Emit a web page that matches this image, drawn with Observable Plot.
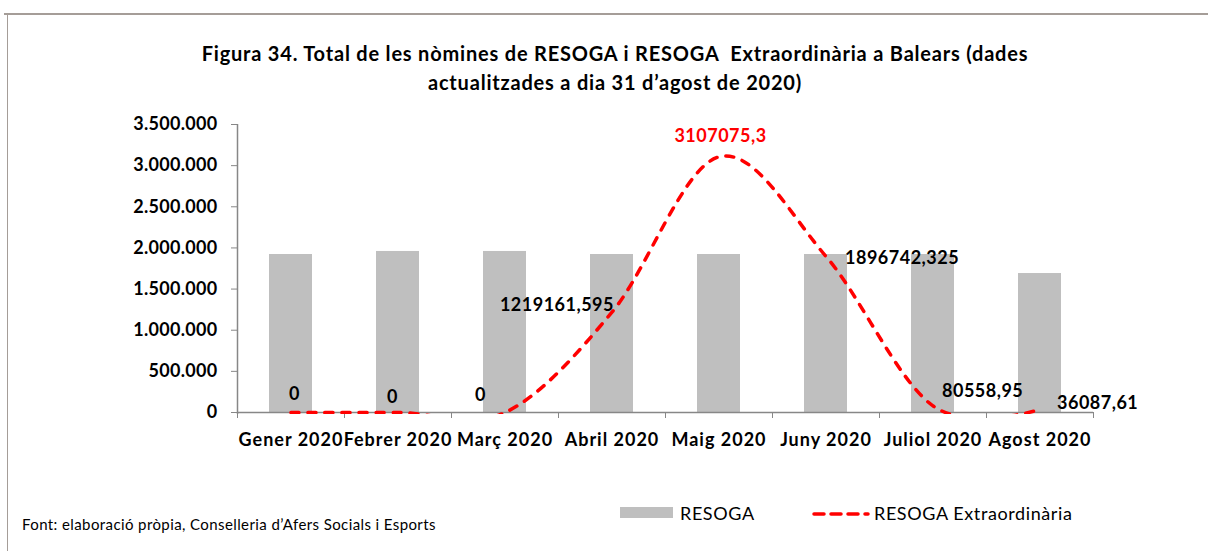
<!DOCTYPE html>
<html><head><meta charset="utf-8">
<script src="https://cdn.jsdelivr.net/npm/d3@7"></script>
<script src="https://cdn.jsdelivr.net/npm/@observablehq/plot@0.6"></script>
<style>
body{margin:0;background:#fff;font-family:Lato,sans-serif;}
#page{position:relative;width:1208px;height:551px;overflow:hidden;background:#fff;}
#frameTop{position:absolute;left:4px;top:13px;width:1210px;height:0;border-top:2px solid #a59d98;}
#frameLeft{position:absolute;left:7px;top:13px;width:0;height:560px;border-left:1.5px solid #a59d98;}
.title{position:absolute;left:0;width:1230px;text-align:center;font-weight:bold;font-size:20px;letter-spacing:0.8px;line-height:29px;white-space:pre;color:#000;}
#chart{position:absolute;left:0;top:100px;}
#caption{position:absolute;left:22px;top:515px;font-size:15px;letter-spacing:0.4px;line-height:18px;color:#000;white-space:pre;}
.legtext{position:absolute;font-size:18px;letter-spacing:0.6px;line-height:20px;color:#000;white-space:pre;}
#legBox{position:absolute;left:620px;top:507px;width:53px;height:11px;background:#BFBFBF;}
#legLine{position:absolute;left:808px;top:506px;}
#chart g[aria-label="y-axis tick label"] text{letter-spacing:0.3px;}
#chart g[aria-label="x-axis tick label"] text{letter-spacing:1px;}
#chart g[aria-label="text"] text{letter-spacing:0.5px;}
</style>
</head><body>
<div id="page">
  <div id="frameTop"></div>
  <div id="frameLeft"></div>
  <div class="title" style="top:39px">Figura 34. Total de les nòmines de RESOGA i RESOGA  Extraordinària a Balears (dades</div>
  <div class="title" style="top:68px">actualitzades a dia 31 d’agost de 2020)</div>
  <div id="chart"></div>
  <div id="caption">Font: elaboració pròpia, Conselleria d’Afers Socials i Esports</div>
  <div id="legBox"></div>
  <div class="legtext" style="left:680px;top:503px">RESOGA</div>
  <svg id="legLine" width="64" height="16"><line x1="6" y1="8" x2="60" y2="8" stroke="#FF0000" stroke-width="3.5" stroke-linecap="round" stroke-dasharray="10,7"/></svg>
  <div class="legtext" style="left:874px;top:503px">RESOGA Extraordinària</div>
</div>
<script>
// ---- data ----
const months = ["Gener 2020","Febrer 2020","Març 2020","Abril 2020","Maig 2020","Juny 2020","Juliol 2020","Agost 2020"];
const resoga = [1920000, 1957000, 1957000, 1920000, 1920000, 1920000, 1920000, 1689000];
const extraordinaria = [0, 0, 0, 1219161.595, 3107075.3, 1896742.325, 80558.95, 36087.61];
const yTicks = [0, 500000, 1000000, 1500000, 2000000, 2500000, 3000000, 3500000];

// ---- label placement (style, not data) ----
const labelPlacement = [
  {anchor:"middle", dx:3.5, dy:-18.5, fill:"#000"},
  {anchor:"middle", dx:-5.5, dy:-15.5, fill:"#000"},
  {anchor:"middle", dx:-24.5, dy:-17, fill:"#000"},
  {anchor:"end", dx:2, dy:-7, fill:"#000"},
  {anchor:"middle", dx:1.5, dy:-21, fill:"#FF0000"},
  {anchor:"start", dx:19, dy:1.5, fill:"#000"},
  {anchor:"start", dx:9, dy:-15, fill:"#000"},
  {anchor:"start", dx:17, dy:-6, fill:"#000"}
];

const W = 1208, H = 360, ML = 237, MR = 115, MT = 24;
const plotH = 288; // px span for 0..3.5M
const yMin = -25000;
const MB = H - MT - plotH * (3500000 - yMin) / 3500000;
const step = (W - ML - MR) / months.length;
const axisGray = "#878787";

const locale = d3.formatLocale({decimal: ",", thousands: ".", grouping: [3], currency: ["", "€"]});
const fmtTick = locale.format(",d");
const fmtLabel = v => String(v).replace(".", ",");
const rows = months.map((m, i) => ({month: m, resoga: resoga[i], extra: extraordinaria[i], i}));

const labelMarks = rows.map((r, i) => Plot.text([r], {
  x: "month", y: "extra", text: d => fmtLabel(d.extra),
  textAnchor: labelPlacement[i].anchor, dx: labelPlacement[i].dx, dy: labelPlacement[i].dy,
  fill: labelPlacement[i].fill, fontWeight: "bold", fontSize: 18
}));

const dyAxis = -plotH * (0 - yMin) / 3500000;

const chart = Plot.plot({
  width: W, height: H,
  marginLeft: ML, marginRight: MR, marginTop: MT, marginBottom: MB,
  style: {fontFamily: "Lato, sans-serif", fontSize: "18px", background: "transparent", overflow: "visible"},
  x: {domain: months, paddingInner: 0.6, paddingOuter: 0.3, label: null},
  y: {domain: [yMin, 3500000], label: null},
  marks: [
    Plot.barY(rows, {x: "month", y: "resoga", fill: "#BFBFBF"}),
    Plot.ruleY([0], {stroke: axisGray, strokeWidth: 1.5}),
    Plot.ruleX([months[0]], {dx: -step / 2, stroke: axisGray, strokeWidth: 1.5}),
    Plot.axisY({ticks: yTicks, tickFormat: fmtTick, tickSize: 6, tickPadding: 14, stroke: axisGray, fill: "#000", fontWeight: "bold", fontSize: 18, label: null}),
    Plot.axisX({tickSize: 6, tickFormat: () => "", dx: -step / 2, dy: dyAxis, stroke: axisGray, label: null}),
    Plot.axisX({ticks: [months[months.length - 1]], tickSize: 6, tickFormat: () => "", dx: step / 2, dy: dyAxis, stroke: axisGray, label: null}),
    Plot.axisX({tickSize: 0, tickPadding: 19, fill: "#000", fontWeight: "bold", fontSize: 18, label: null}),
    Plot.line(rows, {x: "month", y: "extra", stroke: "#FF0000", strokeWidth: 3.5, strokeDasharray: "8,9", strokeLinecap: "round", curve: "cardinal", tension: 0, clip: true}),
    ...labelMarks
  ]
});
document.getElementById("chart").appendChild(chart);
</script>
</body></html>
